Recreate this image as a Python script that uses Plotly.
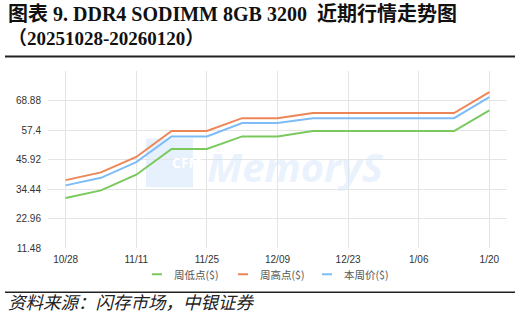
import plotly.graph_objects as go

dates = ["10/28", "11/04", "11/11", "11/18", "11/25", "12/02", "12/09",
         "12/16", "12/23", "12/30", "1/06", "1/13", "1/20"]
low = [30.9, 33.9, 40.0, 50.0, 50.0, 54.9, 54.9, 57.0, 57.0, 57.0, 57.0, 57.0, 65.0]
high = [37.9, 40.9, 46.9, 57.0, 57.0, 62.0, 62.0, 64.0, 64.0, 64.0, 64.0, 64.0, 72.1]
avg = [35.85, 38.8, 44.9, 54.9, 54.9, 60.1, 60.1, 62.0, 62.0, 62.0, 62.0, 62.0, 70.2]
y_ticks = [11.48, 22.96, 34.44, 45.92, 57.4, 68.88]
x_ticks = ["10/28", "11/11", "11/25", "12/09", "12/23", "1/06", "1/20"]

names = ["周低点($)", "周高点($)", "本周价($)"]
colors = ["#79c95c", "#ec8656", "#7ebcf6"]

L, T, W, H = 48, 70.5, 459, 177.2
def px(x):
    return (x - L) / W
def py(y):
    return (T + H - y) / H

idx = list(range(len(dates)))
fig = go.Figure()
for vals, nm, col in zip([low, high, avg], names, colors):
    fig.add_trace(go.Scatter(x=idx, y=vals, mode="lines", name=nm,
                             line=dict(color=col, width=2), showlegend=False))

fig.update_layout(
    width=522, height=318,
    margin=dict(l=L, r=522 - L - W, t=T, b=318 - T - H),
    paper_bgcolor="white", plot_bgcolor="white",
    showlegend=False,
    font=dict(family="Noto Sans CJK SC"),
)
fig.update_xaxes(range=[-0.5, 12.5], tickmode="array",
                 tickvals=[dates.index(t) for t in x_ticks], ticktext=x_ticks,
                 showgrid=True, gridcolor="#e4e4e4", gridwidth=1,
                 zeroline=False, showline=False, ticks="", ticklabelstandoff=4,
                 tickfont=dict(size=10, color="#333", family="Liberation Sans"))
fig.update_yaxes(range=[11.48, 80.36], tickmode="array", tickvals=y_ticks,
                 ticktext=[f"{v:g}" for v in y_ticks],
                 showgrid=True, gridcolor="#e4e4e4", gridwidth=1,
                 zeroline=False, showline=False, ticks="", ticklabelstandoff=6,
                 tickfont=dict(size=10, color="#333", family="Liberation Sans"))

# watermark
fig.add_shape(type="rect", xref="paper", yref="paper", x0=px(146), x1=px(193),
              y0=py(187), y1=py(138), layer="below",
              fillcolor="#e6f1fd", line=dict(width=0))
fig.add_annotation(xref="paper", yref="paper", x=px(170), y=py(162),
                   text="<b>CFM</b>", showarrow=False,
                   font=dict(size=14, color="white", family="Open Sans"))
fig.add_annotation(xref="paper", yref="paper", x=px(205), xanchor="left",
                   y=py(166), text="<b><i>MemoryS</i></b>", showarrow=False,
                   font=dict(size=40, color="rgba(215,232,252,0.55)", family="Open Sans"))

# custom legend
leg_y = 274
for nm, col, x0 in zip(names, colors, [152, 238, 322]):
    fig.add_shape(type="line", xref="paper", yref="paper", x0=px(x0), x1=px(x0 + 10),
                  y0=py(leg_y), y1=py(leg_y), line=dict(color=col, width=2))
    fig.add_annotation(xref="paper", yref="paper", x=px(x0 + 20), xanchor="left",
                       y=py(leg_y), yanchor="middle", text=nm, showarrow=False,
                       font=dict(size=10.5, color="#555", family="Noto Sans CJK SC"))

# title
serif = "Liberation Serif, Noto Sans CJK SC"
fig.add_annotation(xref="paper", yref="paper", x=px(6), xanchor="left", y=py(13),
                   yanchor="middle", showarrow=False,
                   text="<b>图表 9. DDR4 SODIMM 8GB 3200  近期行情走势图</b>",
                   font=dict(size=20, color="#111", family=serif))
fig.add_annotation(xref="paper", yref="paper", x=px(6), xanchor="left", y=py(38),
                   yanchor="middle", showarrow=False,
                   text="<b>（20251028-20260120）</b>",
                   font=dict(size=19, color="#111", family=serif))
fig.add_annotation(xref="paper", yref="paper", x=px(6), xanchor="left", y=py(301),
                   yanchor="middle", showarrow=False,
                   text="<i>资料来源：闪存市场，中银证券</i>",
                   font=dict(size=17.5, color="#222", family="Noto Sans CJK SC"))
# rules
fig.add_shape(type="line", xref="paper", yref="paper", x0=px(5), x1=px(515),
              y0=py(56), y1=py(56), line=dict(color="#222", width=2))
fig.add_shape(type="line", xref="paper", yref="paper", x0=px(5), x1=px(515),
              y0=py(292), y1=py(292), line=dict(color="#222", width=1.5))

fig.write_html("out.html")
